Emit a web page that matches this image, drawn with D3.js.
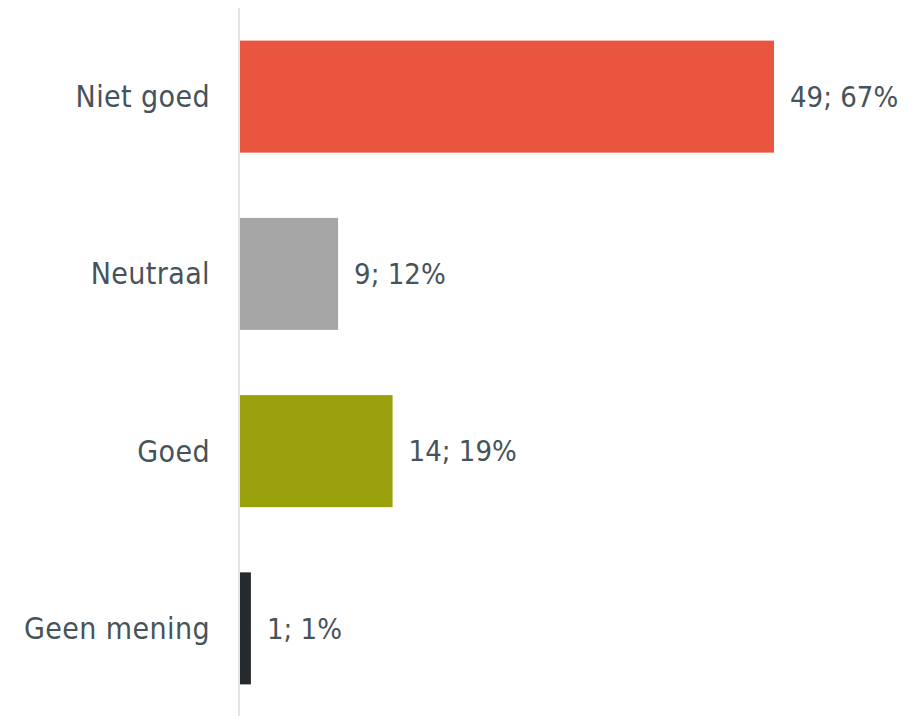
<!DOCTYPE html>
<html>
<head>
<meta charset="utf-8">
<script src="https://d3js.org/d3.v7.min.js"></script>
<style>
    body { margin: 0; background: #ffffff; }
    text {
        font-family: "DejaVu Sans Condensed", "DejaVu Sans", sans-serif;
        font-stretch: condensed;
        font-size: 29px;
        fill: #46535a;
    }
    text.cat { font-size: 30px; letter-spacing: 0.4px; }
</style>
</head>
<body>
<div id="chart"></div>
<script>
    // data
    const categories = ["Niet goed", "Neutraal", "Goed", "Geen mening"];
    const counts = [49, 9, 14, 1];
    const percents = [67, 12, 19, 1];
    const colors = ["#e9553f", "#a6a6a6", "#9aa00b", "#242a2d"];

    const width = 912, height = 716;
    const axisX = 240;

    const svg = d3.select("#chart")
        .append("svg")
        .attr("width", width)
        .attr("height", height);

    const x = d3.scaleLinear()
        .domain([0, 49])
        .range([axisX, axisX + 534]);

    const y = d3.scaleBand()
        .domain(categories)
        .range([8, 717])
        .paddingInner(0.368)
        .paddingOuter(0.184);

    const rows = categories.map((c, i) => ({cat: c, n: counts[i], p: percents[i], col: colors[i]}));

    // bars
    svg.selectAll("rect.bar")
        .data(rows)
        .join("rect")
        .attr("class", "bar")
        .attr("x", x(0))
        .attr("y", d => y(d.cat))
        .attr("width", d => x(d.n) - x(0))
        .attr("height", y.bandwidth())
        .attr("fill", d => d.col);

    // axis line
    svg.append("line")
        .attr("x1", axisX - 1).attr("x2", axisX - 1)
        .attr("y1", 8).attr("y2", height)
        .attr("stroke", "#e4e6e9")
        .attr("stroke-width", 2);

    // category labels
    svg.selectAll("text.cat")
        .data(rows)
        .join("text")
        .attr("class", "cat")
        .attr("x", 210)
        .attr("y", d => y(d.cat) + y.bandwidth() / 2)
        .attr("dy", "0.35em")
        .attr("text-anchor", "end")
        .text(d => d.cat);

    // value labels
    svg.selectAll("text.val")
        .data(rows)
        .join("text")
        .attr("class", "val")
        .attr("x", d => x(d.n) + 16)
        .attr("y", d => y(d.cat) + y.bandwidth() / 2)
        .attr("dy", "0.35em")
        .text(d => d.n + "; " + d.p + "%");
</script>
</body>
</html>
